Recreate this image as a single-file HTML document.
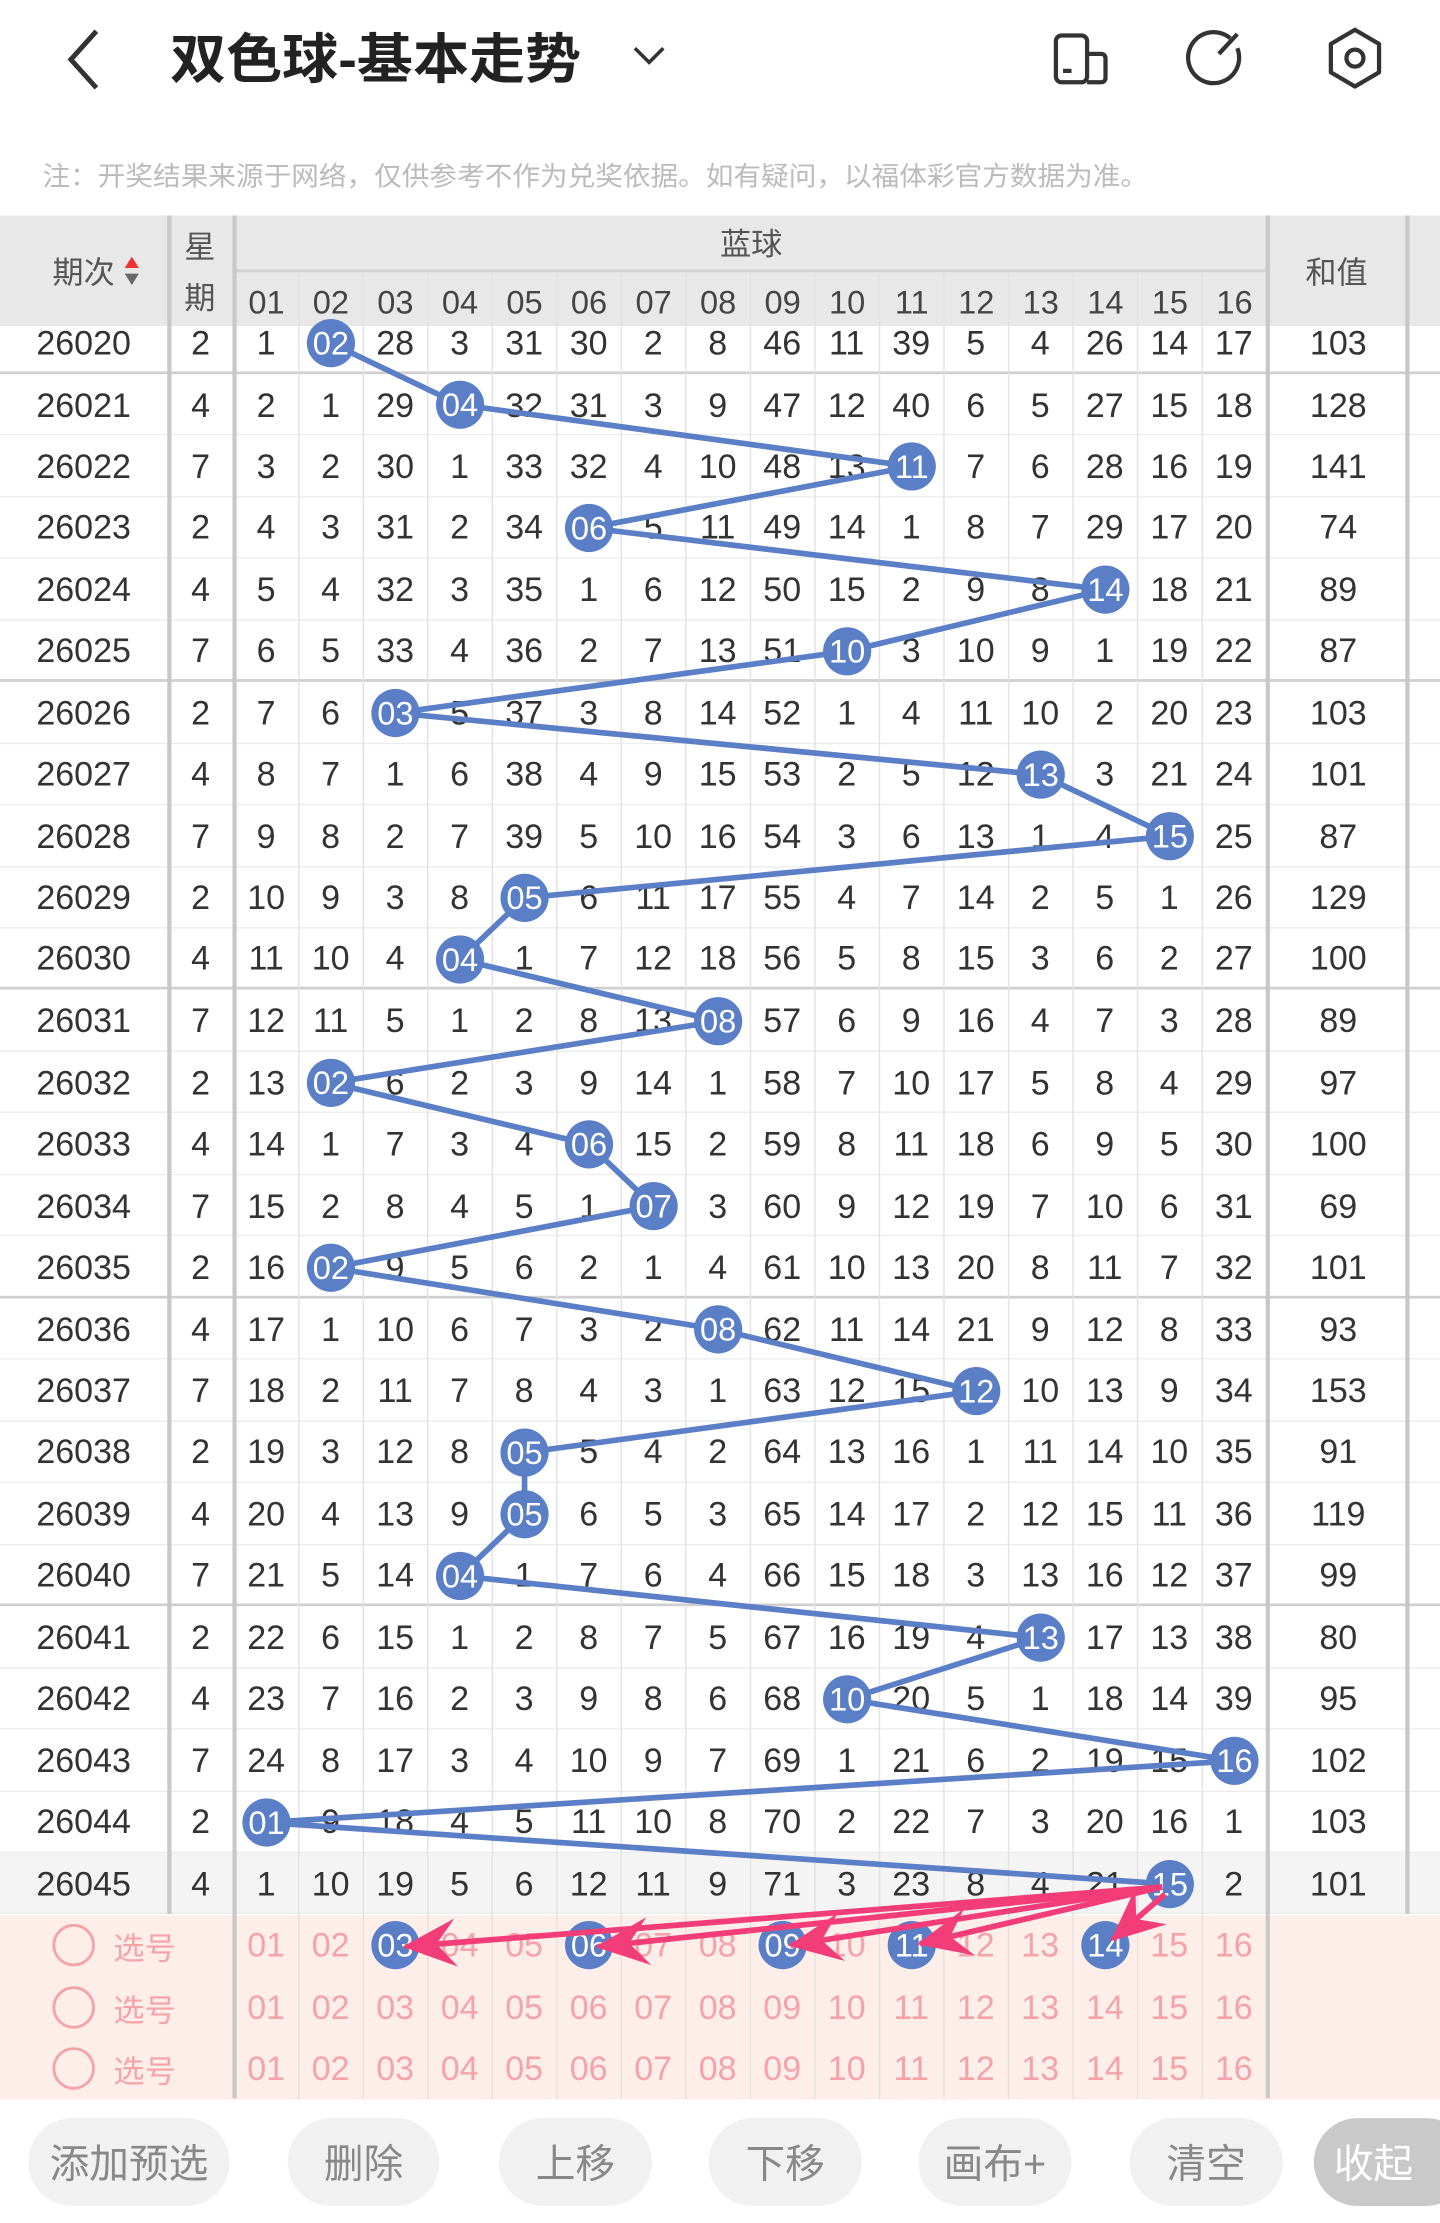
<!DOCTYPE html>
<html><head><meta charset="utf-8">
<style>
*{margin:0;padding:0;box-sizing:border-box}
html,body{width:1440px;height:2223px;overflow:hidden;background:#fff}
#s{position:absolute;left:0;top:0;width:1016px;height:1568px;transform:scale(1.41732,1.41773);transform-origin:0 0;font-family:"Liberation Sans","Noto Sans CJK SC",sans-serif}
.rows{position:absolute;left:0;top:220.3px;width:1016px}
.r{height:43.48px;display:flex;align-items:center;border-bottom:1px solid #ececec;font-size:24px;color:#333;background:#fff;padding-top:3px}
.r.d{border-bottom:2px solid #cfcfcf}
.r span{width:45.53px;text-align:center;flex:none;white-space:nowrap}
.r span:first-child{width:118px}
.r span:nth-child(2){width:47px}
.r span:last-child{width:102px}
.r.g{background:#f4f4f4}
.sel{position:absolute;left:0;top:1350.8px;width:1016px;height:130px;background:#fdeeea}
.sr{height:43.3px;display:flex;align-items:center;font-size:24px;color:#f4a3aa;padding-top:2px}
.sr span{width:45.53px;text-align:center;flex:none}
.sr span:first-child{width:165px;text-align:left;padding-left:80px;font-size:22px}
.hd{position:absolute;left:0;top:152px;width:1016px;height:78px;background:#e8e8e8}
.btn{position:absolute;top:1494px;height:62px;border-radius:31px;background:#f1f1f1;color:#888;font-size:28px;display:flex;align-items:center;justify-content:center}
svg{position:absolute;left:0;top:0}
</style></head><body><div id="s">

<div class="rows">
<div class="r d"><span>26020</span><span>2</span><span>1</span><span>02</span><span>28</span><span>3</span><span>31</span><span>30</span><span>2</span><span>8</span><span>46</span><span>11</span><span>39</span><span>5</span><span>4</span><span>26</span><span>14</span><span>17</span><span>103</span></div>
<div class="r"><span>26021</span><span>4</span><span>2</span><span>1</span><span>29</span><span>04</span><span>32</span><span>31</span><span>3</span><span>9</span><span>47</span><span>12</span><span>40</span><span>6</span><span>5</span><span>27</span><span>15</span><span>18</span><span>128</span></div>
<div class="r"><span>26022</span><span>7</span><span>3</span><span>2</span><span>30</span><span>1</span><span>33</span><span>32</span><span>4</span><span>10</span><span>48</span><span>13</span><span>11</span><span>7</span><span>6</span><span>28</span><span>16</span><span>19</span><span>141</span></div>
<div class="r"><span>26023</span><span>2</span><span>4</span><span>3</span><span>31</span><span>2</span><span>34</span><span>06</span><span>5</span><span>11</span><span>49</span><span>14</span><span>1</span><span>8</span><span>7</span><span>29</span><span>17</span><span>20</span><span>74</span></div>
<div class="r"><span>26024</span><span>4</span><span>5</span><span>4</span><span>32</span><span>3</span><span>35</span><span>1</span><span>6</span><span>12</span><span>50</span><span>15</span><span>2</span><span>9</span><span>8</span><span>14</span><span>18</span><span>21</span><span>89</span></div>
<div class="r d"><span>26025</span><span>7</span><span>6</span><span>5</span><span>33</span><span>4</span><span>36</span><span>2</span><span>7</span><span>13</span><span>51</span><span>10</span><span>3</span><span>10</span><span>9</span><span>1</span><span>19</span><span>22</span><span>87</span></div>
<div class="r"><span>26026</span><span>2</span><span>7</span><span>6</span><span>03</span><span>5</span><span>37</span><span>3</span><span>8</span><span>14</span><span>52</span><span>1</span><span>4</span><span>11</span><span>10</span><span>2</span><span>20</span><span>23</span><span>103</span></div>
<div class="r"><span>26027</span><span>4</span><span>8</span><span>7</span><span>1</span><span>6</span><span>38</span><span>4</span><span>9</span><span>15</span><span>53</span><span>2</span><span>5</span><span>12</span><span>13</span><span>3</span><span>21</span><span>24</span><span>101</span></div>
<div class="r"><span>26028</span><span>7</span><span>9</span><span>8</span><span>2</span><span>7</span><span>39</span><span>5</span><span>10</span><span>16</span><span>54</span><span>3</span><span>6</span><span>13</span><span>1</span><span>4</span><span>15</span><span>25</span><span>87</span></div>
<div class="r"><span>26029</span><span>2</span><span>10</span><span>9</span><span>3</span><span>8</span><span>05</span><span>6</span><span>11</span><span>17</span><span>55</span><span>4</span><span>7</span><span>14</span><span>2</span><span>5</span><span>1</span><span>26</span><span>129</span></div>
<div class="r d"><span>26030</span><span>4</span><span>11</span><span>10</span><span>4</span><span>04</span><span>1</span><span>7</span><span>12</span><span>18</span><span>56</span><span>5</span><span>8</span><span>15</span><span>3</span><span>6</span><span>2</span><span>27</span><span>100</span></div>
<div class="r"><span>26031</span><span>7</span><span>12</span><span>11</span><span>5</span><span>1</span><span>2</span><span>8</span><span>13</span><span>08</span><span>57</span><span>6</span><span>9</span><span>16</span><span>4</span><span>7</span><span>3</span><span>28</span><span>89</span></div>
<div class="r"><span>26032</span><span>2</span><span>13</span><span>02</span><span>6</span><span>2</span><span>3</span><span>9</span><span>14</span><span>1</span><span>58</span><span>7</span><span>10</span><span>17</span><span>5</span><span>8</span><span>4</span><span>29</span><span>97</span></div>
<div class="r"><span>26033</span><span>4</span><span>14</span><span>1</span><span>7</span><span>3</span><span>4</span><span>06</span><span>15</span><span>2</span><span>59</span><span>8</span><span>11</span><span>18</span><span>6</span><span>9</span><span>5</span><span>30</span><span>100</span></div>
<div class="r"><span>26034</span><span>7</span><span>15</span><span>2</span><span>8</span><span>4</span><span>5</span><span>1</span><span>07</span><span>3</span><span>60</span><span>9</span><span>12</span><span>19</span><span>7</span><span>10</span><span>6</span><span>31</span><span>69</span></div>
<div class="r d"><span>26035</span><span>2</span><span>16</span><span>02</span><span>9</span><span>5</span><span>6</span><span>2</span><span>1</span><span>4</span><span>61</span><span>10</span><span>13</span><span>20</span><span>8</span><span>11</span><span>7</span><span>32</span><span>101</span></div>
<div class="r"><span>26036</span><span>4</span><span>17</span><span>1</span><span>10</span><span>6</span><span>7</span><span>3</span><span>2</span><span>08</span><span>62</span><span>11</span><span>14</span><span>21</span><span>9</span><span>12</span><span>8</span><span>33</span><span>93</span></div>
<div class="r"><span>26037</span><span>7</span><span>18</span><span>2</span><span>11</span><span>7</span><span>8</span><span>4</span><span>3</span><span>1</span><span>63</span><span>12</span><span>15</span><span>12</span><span>10</span><span>13</span><span>9</span><span>34</span><span>153</span></div>
<div class="r"><span>26038</span><span>2</span><span>19</span><span>3</span><span>12</span><span>8</span><span>05</span><span>5</span><span>4</span><span>2</span><span>64</span><span>13</span><span>16</span><span>1</span><span>11</span><span>14</span><span>10</span><span>35</span><span>91</span></div>
<div class="r"><span>26039</span><span>4</span><span>20</span><span>4</span><span>13</span><span>9</span><span>05</span><span>6</span><span>5</span><span>3</span><span>65</span><span>14</span><span>17</span><span>2</span><span>12</span><span>15</span><span>11</span><span>36</span><span>119</span></div>
<div class="r d"><span>26040</span><span>7</span><span>21</span><span>5</span><span>14</span><span>04</span><span>1</span><span>7</span><span>6</span><span>4</span><span>66</span><span>15</span><span>18</span><span>3</span><span>13</span><span>16</span><span>12</span><span>37</span><span>99</span></div>
<div class="r"><span>26041</span><span>2</span><span>22</span><span>6</span><span>15</span><span>1</span><span>2</span><span>8</span><span>7</span><span>5</span><span>67</span><span>16</span><span>19</span><span>4</span><span>13</span><span>17</span><span>13</span><span>38</span><span>80</span></div>
<div class="r"><span>26042</span><span>4</span><span>23</span><span>7</span><span>16</span><span>2</span><span>3</span><span>9</span><span>8</span><span>6</span><span>68</span><span>10</span><span>20</span><span>5</span><span>1</span><span>18</span><span>14</span><span>39</span><span>95</span></div>
<div class="r"><span>26043</span><span>7</span><span>24</span><span>8</span><span>17</span><span>3</span><span>4</span><span>10</span><span>9</span><span>7</span><span>69</span><span>1</span><span>21</span><span>6</span><span>2</span><span>19</span><span>15</span><span>16</span><span>102</span></div>
<div class="r"><span>26044</span><span>2</span><span>01</span><span>9</span><span>18</span><span>4</span><span>5</span><span>11</span><span>10</span><span>8</span><span>70</span><span>2</span><span>22</span><span>7</span><span>3</span><span>20</span><span>16</span><span>1</span><span>103</span></div>
<div class="r g"><span>26045</span><span>4</span><span>1</span><span>10</span><span>19</span><span>5</span><span>6</span><span>12</span><span>11</span><span>9</span><span>71</span><span>3</span><span>23</span><span>8</span><span>4</span><span>21</span><span>15</span><span>2</span><span>101</span></div>
</div>

<div class="sel">
<div class="sr"><span>选号</span><span>01</span><span>02</span><span>03</span><span>04</span><span>05</span><span>06</span><span>07</span><span>08</span><span>09</span><span>10</span><span>11</span><span>12</span><span>13</span><span>14</span><span>15</span><span>16</span></div>
<div class="sr"><span>选号</span><span>01</span><span>02</span><span>03</span><span>04</span><span>05</span><span>06</span><span>07</span><span>08</span><span>09</span><span>10</span><span>11</span><span>12</span><span>13</span><span>14</span><span>15</span><span>16</span></div>
<div class="sr"><span>选号</span><span>01</span><span>02</span><span>03</span><span>04</span><span>05</span><span>06</span><span>07</span><span>08</span><span>09</span><span>10</span><span>11</span><span>12</span><span>13</span><span>14</span><span>15</span><span>16</span></div>
</div>

<div class="hd"></div>

<svg width="1016" height="1568" viewBox="0 0 1016 1568" font-family="Liberation Sans, Noto Sans CJK SC, sans-serif">
<defs>
<marker id="ar" viewBox="-40 -20 44 40" refX="0" refY="0" markerWidth="44" markerHeight="40" markerUnits="userSpaceOnUse" orient="auto">
<path d="M2,0 L-36,-17 L-22,0 L-36,17 Z" fill="#f23d78"/>
</marker>
</defs>
<polyline points="68,22 50,42 68,62" fill="none" stroke="#333" stroke-width="3.5"/>
<text x="120" y="55" font-size="38" font-weight="bold" fill="#222" textLength="290" lengthAdjust="spacingAndGlyphs">双色球-基本走势</text>
<polyline points="448,34 458,44 468,34" fill="none" stroke="#333" stroke-width="2.5"/>
<rect x="745" y="25" width="22" height="33" rx="4" fill="none" stroke="#333" stroke-width="3"/>
<path d="M767,38 h10 a3,3 0 0 1 3,3 v14 a3,3 0 0 1 -3,3 h-10" fill="none" stroke="#333" stroke-width="3"/>
<line x1="750" y1="50" x2="756" y2="50" stroke="#333" stroke-width="3"/>
<path d="M868,27 A18,18 0 1 0 873,34" fill="none" stroke="#333" stroke-width="3"/>
<line x1="860" y1="38" x2="873" y2="24" stroke="#333" stroke-width="3"/>
<polygon points="956,21 973,31 973,51 956,61 939,51 939,31" fill="none" stroke="#333" stroke-width="3" stroke-linejoin="round"/>
<circle cx="956" cy="41" r="6" fill="none" stroke="#333" stroke-width="3"/>
<text x="30" y="131" font-size="19" fill="#bbb" textLength="780" lengthAdjust="spacingAndGlyphs">注：开奖结果来源于网络，仅供参考不作为兑奖依据。如有疑问，以福体彩官方数据为准。</text>

<text x="37" y="200" font-size="22" fill="#555">期次</text>
<polygon points="93,181 98,189 88,189" fill="#e33"/>
<polygon points="88,193 98,193 93,201" fill="#666"/>
<text x="141" y="182" font-size="22" fill="#555" text-anchor="middle">星</text>
<text x="141" y="218" font-size="22" fill="#555" text-anchor="middle">期</text>
<text x="530" y="180" font-size="22" fill="#555" text-anchor="middle">蓝球</text>
<text x="943" y="200" font-size="22" fill="#555" text-anchor="middle">和值</text>
<line x1="166" y1="191" x2="893" y2="191" stroke="#d2d2d2" stroke-width="2"/>
<g font-size="23" fill="#444" text-anchor="middle">
<text x="188" y="221">01</text><text x="233.5" y="221">02</text><text x="279" y="221">03</text><text x="324.6" y="221">04</text><text x="370.1" y="221">05</text><text x="415.6" y="221">06</text><text x="461.2" y="221">07</text><text x="506.7" y="221">08</text><text x="552.2" y="221">09</text><text x="597.7" y="221">10</text><text x="643.3" y="221">11</text><text x="688.8" y="221">12</text><text x="734.3" y="221">13</text><text x="779.9" y="221">14</text><text x="825.4" y="221">15</text><text x="871" y="221">16</text>
</g>

<g stroke="#e2e2e2" stroke-width="1">
<line x1="210.8" y1="193" x2="210.8" y2="1480"/><line x1="256.3" y1="193" x2="256.3" y2="1480"/><line x1="301.8" y1="193" x2="301.8" y2="1480"/><line x1="347.3" y1="193" x2="347.3" y2="1480"/><line x1="392.9" y1="193" x2="392.9" y2="1480"/><line x1="438.4" y1="193" x2="438.4" y2="1480"/><line x1="483.9" y1="193" x2="483.9" y2="1480"/><line x1="529.5" y1="193" x2="529.5" y2="1480"/><line x1="575" y1="193" x2="575" y2="1480"/><line x1="620.5" y1="193" x2="620.5" y2="1480"/><line x1="666" y1="193" x2="666" y2="1480"/><line x1="711.6" y1="193" x2="711.6" y2="1480"/><line x1="757.1" y1="193" x2="757.1" y2="1480"/><line x1="802.6" y1="193" x2="802.6" y2="1480"/><line x1="848.2" y1="193" x2="848.2" y2="1480"/>
</g>
<g stroke="#c8c8c8" stroke-width="3">
<line x1="119.5" y1="152" x2="119.5" y2="1350"/>
<line x1="165.5" y1="152" x2="165.5" y2="1480"/>
<line x1="894.5" y1="152" x2="894.5" y2="1480"/>
<line x1="993" y1="152" x2="993" y2="1350"/>
</g>

<polyline fill="none" stroke="#5b7fc7" stroke-width="4" points="233.5,242 324.6,285.5 643.3,329 415.6,372.4 779.9,415.9 597.7,459.4 279,502.9 734.3,546.4 825.4,589.8 370.1,633.3 324.6,676.8 506.7,720.3 233.5,763.8 415.6,807.2 461.2,850.7 233.5,894.2 506.7,937.7 688.8,981.2 370.1,1024.6 370.1,1068.1 324.6,1111.6 734.3,1155.1 597.7,1198.6 871,1242 188,1285.5 825.4,1329"/>
<g fill="#5b7fc7">
<circle cx="233.5" cy="242" r="17"/><circle cx="324.6" cy="285.5" r="17"/><circle cx="643.3" cy="329" r="17"/><circle cx="415.6" cy="372.4" r="17"/><circle cx="779.9" cy="415.9" r="17"/><circle cx="597.7" cy="459.4" r="17"/><circle cx="279" cy="502.9" r="17"/><circle cx="734.3" cy="546.4" r="17"/><circle cx="825.4" cy="589.8" r="17"/><circle cx="370.1" cy="633.3" r="17"/><circle cx="324.6" cy="676.8" r="17"/><circle cx="506.7" cy="720.3" r="17"/><circle cx="233.5" cy="763.8" r="17"/><circle cx="415.6" cy="807.2" r="17"/><circle cx="461.2" cy="850.7" r="17"/><circle cx="233.5" cy="894.2" r="17"/><circle cx="506.7" cy="937.7" r="17"/><circle cx="688.8" cy="981.2" r="17"/><circle cx="370.1" cy="1024.6" r="17"/><circle cx="370.1" cy="1068.1" r="17"/><circle cx="324.6" cy="1111.6" r="17"/><circle cx="734.3" cy="1155.1" r="17"/><circle cx="597.7" cy="1198.6" r="17"/><circle cx="871" cy="1242" r="17"/><circle cx="188" cy="1285.5" r="17"/><circle cx="825.4" cy="1329" r="17"/>
<circle cx="279" cy="1372" r="17"/><circle cx="415.6" cy="1372" r="17"/><circle cx="552.2" cy="1372" r="17"/><circle cx="643.3" cy="1372" r="17"/><circle cx="779.9" cy="1372" r="17"/>
</g>
<g fill="#fff" font-size="23" text-anchor="middle">
<text x="233.5" y="250">02</text><text x="324.6" y="293.5">04</text><text x="643.3" y="337">11</text><text x="415.6" y="380.4">06</text><text x="779.9" y="423.9">14</text><text x="597.7" y="467.4">10</text><text x="279" y="510.9">03</text><text x="734.3" y="554.4">13</text><text x="825.4" y="597.8">15</text><text x="370.1" y="641.3">05</text><text x="324.6" y="684.8">04</text><text x="506.7" y="728.3">08</text><text x="233.5" y="771.8">02</text><text x="415.6" y="815.2">06</text><text x="461.2" y="858.7">07</text><text x="233.5" y="902.2">02</text><text x="506.7" y="945.7">08</text><text x="688.8" y="989.2">12</text><text x="370.1" y="1032.6">05</text><text x="370.1" y="1076.1">05</text><text x="324.6" y="1119.6">04</text><text x="734.3" y="1163.1">13</text><text x="597.7" y="1206.6">10</text><text x="871" y="1250">16</text><text x="188" y="1293.5">01</text><text x="825.4" y="1337">15</text>
<text x="279" y="1380">03</text><text x="415.6" y="1380">06</text><text x="552.2" y="1380">09</text><text x="643.3" y="1380">11</text><text x="779.9" y="1380">14</text>
</g>
<g stroke="#f23d78" stroke-width="4" fill="none" marker-end="url(#ar)">
<line x1="820" y1="1331" x2="286" y2="1373"/>
<line x1="820" y1="1331" x2="422" y2="1373"/>
<line x1="820" y1="1331" x2="558" y2="1372"/>
<line x1="820" y1="1331" x2="649" y2="1371"/>
<line x1="822" y1="1336" x2="785" y2="1368"/>
</g>
<g fill="none" stroke="#f4a3aa" stroke-width="2">
<circle cx="52" cy="1372" r="14"/><circle cx="52" cy="1416" r="14"/><circle cx="52" cy="1459" r="14"/>
</g>
</svg>

<div class="btn" style="left:20px;width:142px">添加预选</div>
<div class="btn" style="left:203px;width:107px">删除</div>
<div class="btn" style="left:352px;width:108px">上移</div>
<div class="btn" style="left:500px;width:108px">下移</div>
<div class="btn" style="left:648px;width:108px">画布+</div>
<div class="btn" style="left:797px;width:108px">清空</div>
<div class="btn" style="left:927px;width:110px;background:#c9c9c9;color:#fff;justify-content:flex-start;padding-left:14px">收起</div>
</div></body></html>
